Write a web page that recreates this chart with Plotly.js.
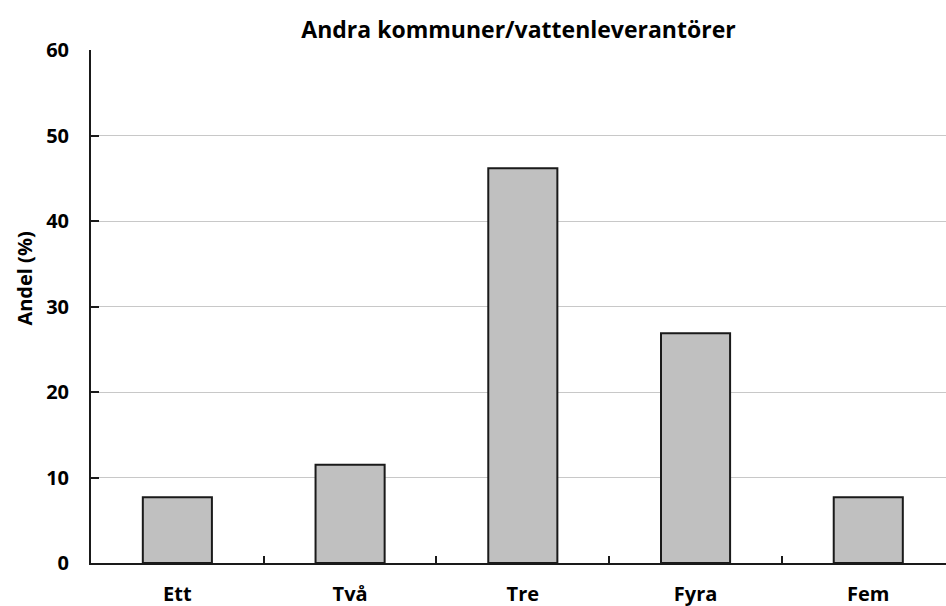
<!DOCTYPE html>
<html>
<head>
<meta charset="utf-8">
<script src="https://cdn.plot.ly/plotly-3.0.1.min.js"></script>
<style>html,body{margin:0;padding:0;background:#fff;}#chart{width:946px;height:606px;}</style>
</head>
<body>
<div id="chart"></div>
<script>
const categories = ["Ett", "Två", "Tre", "Fyra", "Fem"];
const values = [7.7, 11.5, 46.2, 26.9, 7.7];
const yTicks = [0, 10, 20, 30, 40, 50, 60];
const titleText = "Andra kommuner/vattenleverantörer";
const yTitle = "Andel (%)";

const FONT = "Open Sans, Noto Sans, sans-serif";

Plotly.newPlot("chart", [{
  type: "bar",
  x: categories,
  y: values,
  width: 0.4,
  marker: {color: "#c0c0c0", line: {color: "#1a1a1a", width: 2}},
  hoverinfo: "none"
}], {
  width: 946, height: 606,
  margin: {l: 91, r: 0, t: 50, b: 43},
  paper_bgcolor: "#fff", plot_bgcolor: "#fff",
  showlegend: false,
  title: {text: "<b>" + titleText + "</b>", x: 0.5, xref: "paper", y: 0.95, yanchor: "middle",
          font: {family: FONT, size: 23, color: "#000"}},
  annotations: [{
    text: "<b>" + yTitle + "</b>", textangle: -90,
    xref: "paper", yref: "paper", x: -0.078, y: 0.555,
    xanchor: "center", yanchor: "middle", showarrow: false,
    font: {family: FONT, size: 20, color: "#000"}
  }],
  xaxis: {
    type: "category",
    range: [-0.5, 4.45],
    tickson: "boundaries",
    ticks: "inside", ticklen: 7, tickwidth: 2, tickcolor: "#1a1a1a",
    showline: true, linecolor: "#1a1a1a", linewidth: 2,
    showgrid: false, zeroline: false,
    tickfont: {family: FONT, size: 20, color: "#000", weight: "bold"},
    ticklabelstandoff: 12
  },
  yaxis: {
    range: [0, 60.05],
    tickvals: yTicks,
    ticktext: yTicks.map(v => String(v)),
    ticks: "inside", ticklen: 8, tickwidth: 2, tickcolor: "#1a1a1a",
    showline: true, linecolor: "#1a1a1a", linewidth: 2,
    showgrid: true, gridcolor: "#c8c8c8", gridwidth: 1,
    zeroline: false,
    tickfont: {family: FONT, size: 20, color: "#000", weight: "bold"},
    ticklabelstandoff: 16
  }
}, {staticPlot: true});
</script>
</body>
</html>
